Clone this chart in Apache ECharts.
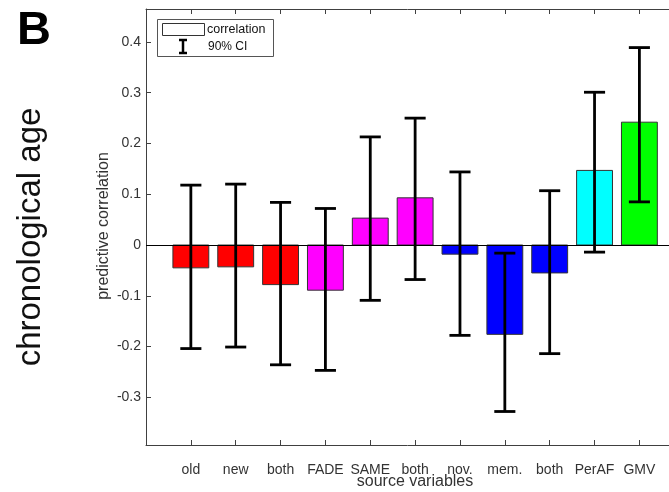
<!DOCTYPE html>
<html>
<head>
<meta charset="utf-8">
<script src="https://cdn.jsdelivr.net/npm/echarts@6/dist/echarts.min.js"></script>
<style>
  html, body { margin: 0; padding: 0; background: #fff; }
  #chart { width: 669px; height: 492px; }
</style>
</head>
<body>
<div id="chart"></div>
<script>
// Source variables and their predictive correlation with chronological age
const categories = ['old', 'new', 'both', 'FADE', 'SAME', 'both', 'nov.', 'mem.', 'both', 'PerAF', 'GMV'];
const correlation = [-0.045, -0.043, -0.078, -0.089, 0.053, 0.093, -0.018, -0.176, -0.055, 0.147, 0.242];
const ciLower = [-0.204, -0.201, -0.236, -0.247, -0.109, -0.068, -0.178, -0.328, -0.214, -0.014, 0.085];
const ciUpper = [0.118, 0.120, 0.084, 0.072, 0.213, 0.250, 0.144, -0.016, 0.107, 0.301, 0.389];
const barColors = ['#ff0000', '#ff0000', '#ff0000', '#ff00ff', '#ff00ff', '#ff00ff',
                   '#0000ff', '#0000ff', '#0000ff', '#00ffff', '#00ff00'];
const yTicks = [-0.3, -0.2, -0.1, 0, 0.1, 0.2, 0.3, 0.4];
const xTicks = categories.map((_, i) => i + 1);

const FONT = 'Liberation Sans, Arial, sans-serif';
const AXIS_COLOR = '#404040';
const TEXT_COLOR = '#333';

const rows = categories.map((c, i) => [i + 1, correlation[i], ciLower[i], ciUpper[i]]);

const chart = echarts.init(document.getElementById('chart'), null, { renderer: 'canvas' });

// the plot box runs past the right edge of the page, so the x range stops short of 12
const axisCommon = {
  type: 'value',
  min: 0,
  max: 11.66,
  splitLine: { show: false },
  axisLine: { show: true, onZero: false, lineStyle: { color: AXIS_COLOR, width: 1 } },
  axisTick: { show: true, inside: true, length: 5, customValues: xTicks, lineStyle: { color: AXIS_COLOR } }
};

chart.setOption({
  animation: false,
  backgroundColor: '#fff',
  grid: { left: 146, top: 9, right: 0, bottom: 47, containLabel: false },
  xAxis: [
    Object.assign({}, axisCommon, {
      position: 'bottom',
      axisLabel: {
        customValues: xTicks,
        formatter: v => categories[v - 1] || '',
        color: TEXT_COLOR,
        fontSize: 14,
        fontFamily: FONT,
        margin: 18
      }
    }),
    Object.assign({}, axisCommon, {
      position: 'top',
      axisLabel: { show: false }
    })
  ],
  yAxis: {
    type: 'value',
    min: -0.394,
    max: 0.465,
    splitLine: { show: false },
    axisLine: { show: true, onZero: false, lineStyle: { color: AXIS_COLOR, width: 1 } },
    axisTick: { show: true, inside: true, length: 5, customValues: yTicks, lineStyle: { color: AXIS_COLOR } },
    axisLabel: {
      customValues: yTicks,
      formatter: v => (Math.abs(v) < 1e-9 ? '0' : v.toFixed(1)),
      color: TEXT_COLOR,
      fontSize: 14,
      fontFamily: FONT,
      margin: 5
    }
  },
  series: [
    {
      name: 'correlation',
      type: 'custom',
      data: rows,
      encode: { x: 0, y: 1 },
      z: 2,
      renderItem: (params, api) => {
        const x = api.value(0);
        const v = api.value(1);
        const p0 = api.coord([x - 0.4, v]);
        const p1 = api.coord([x + 0.4, 0]);
        return {
          type: 'rect',
          shape: {
            x: Math.min(p0[0], p1[0]),
            y: Math.min(p0[1], p1[1]),
            width: Math.abs(p1[0] - p0[0]),
            height: Math.abs(p1[1] - p0[1])
          },
          style: { fill: barColors[params.dataIndex], stroke: '#333', lineWidth: 1 }
        };
      },
      markLine: {
        silent: true,
        symbol: 'none',
        label: { show: false },
        lineStyle: { color: '#000', width: 1.2, type: 'solid' },
        data: [{ yAxis: 0 }]
      }
    },
    {
      name: '90% CI',
      type: 'custom',
      data: rows,
      encode: { x: 0, y: [2, 3] },
      z: 3,
      renderItem: (params, api) => {
        const x = api.value(0);
        const lo = api.coord([x, api.value(2)]);
        const hi = api.coord([x, api.value(3)]);
        const half = api.size([0.235, 0])[0];
        const style = { stroke: '#000', lineWidth: 2.8 };
        return {
          type: 'group',
          children: [
            { type: 'line', shape: { x1: lo[0], y1: lo[1], x2: hi[0], y2: hi[1] }, style },
            { type: 'line', shape: { x1: lo[0] - half, y1: lo[1], x2: lo[0] + half, y2: lo[1] }, style },
            { type: 'line', shape: { x1: hi[0] - half, y1: hi[1], x2: hi[0] + half, y2: hi[1] }, style }
          ]
        };
      }
    }
  ],
  graphic: [
    // panel letter and row title
    {
      type: 'text', left: 17, top: 8,
      style: { text: 'B', font: 'bold 47px ' + FONT, fill: '#000' }
    },
    {
      type: 'text', x: 31, y: 237, rotation: Math.PI / 2,
      style: { text: 'chronological age', font: '33px ' + FONT, fill: '#111',
               align: 'center', verticalAlign: 'middle' }
    },
    // axis titles
    {
      type: 'text', x: 104, y: 226, rotation: Math.PI / 2,
      style: { text: 'predictive correlation', font: '16px ' + FONT, fill: TEXT_COLOR,
               align: 'center', verticalAlign: 'middle' }
    },
    {
      type: 'text', x: 415, y: 482,
      style: { text: 'source variables', font: '16px ' + FONT, fill: TEXT_COLOR,
               align: 'center', verticalAlign: 'middle' }
    },
    // legend box
    { type: 'rect', shape: { x: 157.5, y: 19.5, width: 116, height: 37 },
      style: { fill: '#fff', stroke: '#555', lineWidth: 1 }, z: 10 },
    { type: 'rect', shape: { x: 162.5, y: 23.5, width: 42, height: 12 },
      style: { fill: '#fff', stroke: '#333', lineWidth: 1 }, z: 11 },
    { type: 'text', x: 207, y: 30,
      style: { text: 'correlation', font: '12.5px ' + FONT, fill: '#111', verticalAlign: 'middle' }, z: 11 },
    { type: 'line', shape: { x1: 183, y1: 40, x2: 183, y2: 53 }, style: { stroke: '#000', lineWidth: 2.5 }, z: 11 },
    { type: 'line', shape: { x1: 179, y1: 40, x2: 187, y2: 40 }, style: { stroke: '#000', lineWidth: 2.5 }, z: 11 },
    { type: 'line', shape: { x1: 179, y1: 53, x2: 187, y2: 53 }, style: { stroke: '#000', lineWidth: 2.5 }, z: 11 },
    { type: 'text', x: 208, y: 47,
      style: { text: '90% CI', font: '12px ' + FONT, fill: '#111', verticalAlign: 'middle' }, z: 11 }
  ]
});
</script>
</body>
</html>
